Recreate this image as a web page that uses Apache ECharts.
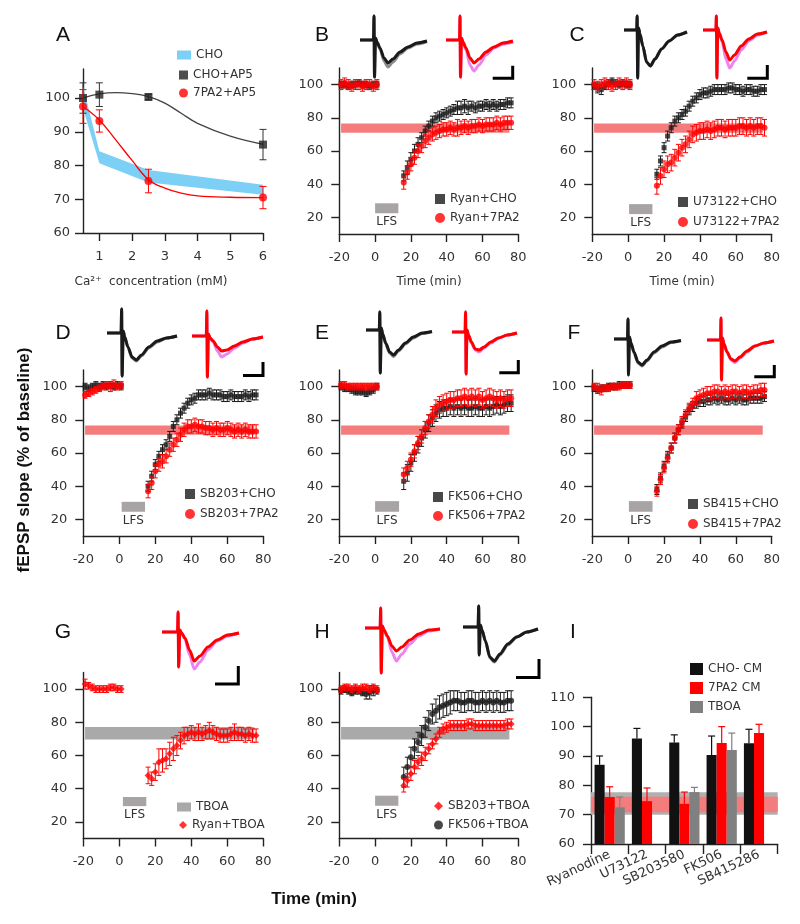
<!DOCTYPE html>
<html><head><meta charset="utf-8">
<script src="https://cdn.jsdelivr.net/npm/echarts@6.0.0/dist/echarts.min.js"></script>
<style>html,body{margin:0;padding:0;background:#fff}#c{width:800px;height:924px}</style>
</head><body><div id="c"></div>
<script>
// ---------------- DATA ----------------
// Panel A
const caX = [0.5, 1, 2.5, 6];
const choBandLow = [97, 80.7, 75, 71.3];
const choBandHigh = [103.5, 84.2, 78.7, 74.3];
const choAp5 = [100, 101, 100.3, 86.2];
const choAp5Err = [4.5, 3.5, 0.8, 4.5];
const pa2Ap5 = [97.5, 93.2, 75.4, 70.5];
const pa2Ap5Err = [5, 3.3, 3.5, 3.3];
const fitX = [0.5, 1, 1.5, 2, 2.5, 3, 3.5, 4, 5, 6];
const choAp5Fit = [100, 101.2, 101.6, 101.3, 100.4, 98.5, 95.5, 92.5, 88.7, 86.3];
const pa2Ap5Fit = [97.5, 93.5, 87.6, 81.5, 75.8, 73.3, 71.8, 71, 70.6, 70.5];
const caTicks = [1, 2, 3, 4, 5, 6];
const caYTicks = [60, 70, 80, 90, 100];

// Time-course panels (B-H)
const timePts = [-19,-17,-15,-13,-11,-9,-7,-5,-3,-1,1, 16,18,20,22,24,26,28,30,32,34,36,38,40,42,44,46,48,50,52,54,56,58,60,62,64,66,68,70,72,74,76];
const timeYTicks = [20, 40, 60, 80, 100];

const ryanCho    = [100,100,99,100,100,101,100,100,99,100,100, 45,50,55,60,64,68,72,75,78,80,81,82,83,84,85,86,86,87,86,87,86,87,87,88,87,88,87,88,88,89,89];
const ryanChoErr = [2,2,2,2,2,2,2,2,2,2,2, 3,4,4,4,4,3,3,3,3,3,3,3,3,3,3,4,4,4,4,3,3,3,3,3,3,3,3,3,3,3,3];
const ryan7PA2    = [100,101,100,99,100,100,99,100,100,99,100, 41,47,52,56,60,63,66,68,70,71,72,73,73,74,73,74,74,75,74,75,75,76,75,76,76,76,77,76,77,77,77];
const ryan7PA2Err = [3,3,3,3,3,3,3,3,3,3,3, 4,4,4,4,4,4,4,4,4,4,4,4,4,4,4,5,4,4,4,4,4,4,4,4,4,4,4,4,4,4,4];

const u73Cho    = [99,98,97,99,101,102,101,100,101,100,100, 46,54,62,69,74,78,80,82,84,87,90,92,94,95,95,96,97,97,97,97,98,98,97,97,96,97,97,96,96,97,97];
const u73ChoErr = [2,3,3,2,2,2,2,2,2,2,2, 3,3,3,3,3,3,3,3,3,3,3,3,3,3,3,3,3,3,3,3,3,3,3,3,3,3,3,3,3,3,3];
const u737PA2    = [100,99,100,101,100,99,100,101,100,101,100, 39,45,49,52,53,56,59,62,64,67,70,71,72,72,73,72,73,74,74,73,74,74,74,75,75,74,75,74,75,75,74];
const u737PA2Err = [3,3,3,3,3,3,3,3,3,3,3, 5,5,5,5,5,5,5,5,5,5,5,5,5,5,5,5,5,5,5,5,5,5,5,5,5,5,5,5,5,5,5];

const sb203Cho    = [100,99,100,101,100,101,100,101,100,101,100, 40,46,53,58,62,65,70,76,80,84,87,90,92,93,95,95,95,96,95,95,95,94,94,95,94,94,94,95,94,95,95];
const sb203ChoErr = [2,2,2,2,2,2,2,2,2,2,2, 3,3,3,3,3,3,3,3,3,3,3,3,3,3,3,3,3,3,3,3,3,3,3,3,3,3,3,3,3,3,3];
const sb2037PA2    = [95,96,97,98,99,100,101,100,101,100,101, 37,42,49,53,55,58,62,65,68,71,74,76,76,77,76,76,75,75,74,75,74,74,75,74,73,74,73,74,73,73,73];
const sb2037PA2Err = [2,2,2,2,2,2,2,3,3,2,2, 4,4,4,4,4,4,4,4,4,4,4,4,4,4,4,4,4,4,4,4,4,4,4,4,4,4,4,4,4,4,4];

const fkCho    = [100,99,99,98,97,97,97,96,97,98,100, 43,48,54,60,65,69,74,78,81,84,86,87,87,88,87,88,87,88,87,87,88,87,87,88,87,88,89,88,89,90,90];
const fkChoErr = [2,2,2,2,2,2,2,2,2,2,2, 5,5,5,5,5,5,5,5,5,5,5,5,5,5,5,5,5,5,5,5,5,5,5,5,5,5,5,5,5,5,5];
const fk7PA2    = [101,101,100,100,100,100,100,100,100,100,100, 47,51,56,61,66,70,75,79,83,87,89,90,91,92,92,93,93,94,93,94,93,94,92,93,94,93,92,93,92,93,93];
const fk7PA2Err = [2,2,2,2,2,2,2,2,2,2,2, 4,4,4,4,4,4,4,4,5,5,5,5,5,5,5,5,5,5,5,5,5,5,5,5,5,5,5,5,5,5,5];

const sb415Cho    = [99,98,99,99,100,100,100,101,101,101,101, 38,45,52,58,63,69,74,78,82,86,88,90,91,91,92,92,93,92,93,92,92,93,92,93,92,92,93,93,93,93,94];
const sb415ChoErr = [2,2,2,2,2,2,2,2,2,2,2, 3,3,3,3,3,3,3,3,3,3,3,3,3,3,3,3,3,3,3,3,3,3,3,3,3,3,3,3,3,3,3];
const sb4157PA2    = [100,99,98,99,99,100,100,100,101,101,101, 37,44,51,57,63,69,74,79,83,87,90,93,94,95,96,96,97,97,96,97,96,97,97,96,97,97,96,97,97,98,98];
const sb4157PA2Err = [2,3,3,2,2,2,2,2,2,2,2, 3,3,3,3,3,3,3,3,3,3,3,4,4,4,4,4,4,4,4,4,4,4,4,4,4,4,4,4,4,4,4];

const ryanTboa    = [103,102,101,100,100,100,100,101,101,100,100, 48,46,50,56,57,58,61,64,66,69,72,73,74,73,74,73,74,75,74,73,72,72,72,73,74,73,73,72,73,72,72];
const ryanTboaErr = [3,2,2,2,2,2,2,2,2,2,2, 5,4,5,8,7,6,7,7,6,5,5,4,4,4,5,4,4,5,4,4,4,4,4,4,5,4,4,4,4,4,4];

const sb203Tboa    = [100,101,101,100,101,100,101,101,100,101,100, 42,45,49,53,56,58,61,64,67,70,74,76,77,78,78,78,78,78,79,79,78,78,78,78,78,78,78,78,78,79,79];
const sb203TboaErr = [2,2,2,2,2,2,2,2,2,2,2, 4,4,4,4,4,4,4,3,3,3,3,3,3,3,3,3,3,3,3,3,3,3,3,3,3,3,3,3,3,3,3];
const fkTboa    = [99,100,99,98,99,99,98,97,98,99,99, 47,53,59,64,68,72,77,81,85,87,89,90,91,92,93,93,92,92,93,93,92,92,93,92,93,92,93,92,92,93,93];
const fkTboaErr = [2,2,2,2,2,2,2,3,4,3,2, 6,6,6,6,6,6,6,6,6,7,7,7,7,7,6,6,6,6,6,6,6,6,6,6,6,6,6,6,6,6,6];

// reference bands [tStart, tEnd, low, high] and LFS bars [tStart, tEnd, low, high]
const band7PA2 = [-19, 75, 71, 76.5];
const bandTboa = [-19, 75, 69.7, 77.2];
const lfsB = [0, 13, 22.5, 28.5];
const lfsC = [0.5, 13.5, 22, 28];
const lfsD = [1.3, 14.3, 24.6, 30.6];
const lfsE = [0, 13.4, 24.6, 31];
const lfsF = [0.4, 13.6, 24.6, 31];
const lfsG = [2, 15, 29.5, 35];
const lfsH = [0, 13, 29.7, 35.8];

// Panel I
const drugCats = ['Ryanodine', 'U73122', 'SB203580', 'FK506', 'SB415286'];
const choCM = [87, 96, 94.6, 90.3, 94.3];
const choCMErr = [3, 3.4, 2.6, 6.5, 4.8];
const pa2CM = [76, 74.6, 73.7, 94.4, 97.8];
const pa2CMErr = [3.5, 4.5, 4, 5.6, 3];
const tboaI = [72.5, null, 77.7, 92, null];
const tboaIErr = [3.5, null, 1.6, 5.8, null];
const bandIGray = [70, 77.6];
const bandIRed = [70.8, 76.1];

// Example fEPSP traces (relative units)
const waveT = [0, 13.5, 14, 14.5, 15.5, 17, 20, 24, 28, 33, 40, 48, 57, 67];
const waveBk = [0,0,24,-37,2,-2,-8,-18,-23,-19,-12,-7,-3,-1];
const waveBg = [0,0,24,-37,2,-2,-9,-21,-27,-22,-14,-8,-4,-1.5];
const waveBr = [0,0,24,-37,2,-2,-8,-18,-23,-19,-12,-7,-3,-1];
const waveBp = [0,0,24,-37,2,-2,-10,-25,-31,-25,-15,-8,-4,-2];
const waveCk = [0,0,14,-48,2,-4,-16,-32,-36,-29,-19,-11,-5,-2];
const waveCr = [0,0,14,-48,2,-3,-10,-22,-30,-25,-16,-9,-4,-2];
const waveCp = [0,0,14,-48,2,-3,-12,-29,-38,-31,-20,-11,-5,-2];
const waveDk = [0,0,24,-43,2,-4,-14,-24,-27,-22,-14,-8,-5,-3];
const waveDg = [0,0,24,-43,2,-4,-14,-25,-28,-23,-15,-9,-5,-3];
const waveDr = [0,0,25,-41,2,-2,-5,-11,-15,-14,-10,-6,-3,-1];
const waveDp = [0,0,25,-41,2,-2,-6,-15,-21,-18,-12,-7,-3,-1];
const waveEk = [0,0,18,-43,2,-4,-13,-22,-25,-20,-13,-7,-3,-1.5];
const waveEg = [0,0,18,-43,2,-4,-14,-23,-26.5,-21,-14,-8,-3.5,-1.5];
const waveEr = [0,0,20,-42,2,-3,-10,-17,-18,-15,-10,-6,-3,-1];
const waveEp = [0,0,20,-42,2,-3,-11,-18,-20,-16,-11,-6,-3,-1];
const waveFk = [0,0,20,-36,2,-4,-13,-23,-26,-21,-13,-7,-3,-1.5];
const waveFg = [0,0,20,-36,2,-4,-14,-24,-27,-22,-14,-8,-3.5,-1.5];
const waveFr = [0,0,22,-40,2,-4,-12,-19,-21,-17,-11,-6,-3,-1];
const waveFp = [0,0,22,-40,2,-4,-12,-20,-22.5,-18,-12,-6,-3,-1];
const waveGr = [0,0,20,-35,2,-1,-6,-18,-29,-24,-15,-8,-3,-1];
const waveGp = [0,0,20,-35,2,-1,-7,-23,-37,-30,-18,-9,-4,-1];
const waveHr = [0,0,20,-45,2,-2,-8,-18,-23,-19,-12,-6,-2,-1];
const waveHp = [0,0,20,-45,2,-2,-9,-24,-33,-26,-16,-8,-3,-1];
const waveHk = [0,0,21,-28,2,-3,-14,-30,-34,-27,-17,-10,-5,-2];
const waveHg = [0,0,21,-28,2,-3,-14,-31,-35,-28,-18,-10,-5,-2];

// ---------------- STYLE ----------------
const BLACK = '#1a1a1a', RED = '#ff0000', PINK = '#ee82ee', GRAYT = '#8c8c8c';
const RED_BAND = '#f47c7c', GRAY_BAND = '#a9a9a9', LFS_C = '#a8a4a6', TXT = '#333';
const F = '"DejaVu Sans", sans-serif';
const FA = '"Liberation Sans", Arial, sans-serif';

const grid = [], xAxis = [], yAxis = [], series = [], legend = [], graphic = [];

function addGrid(r) {
  grid.push({left: r[0], top: r[1], width: r[2], height: r[3], containLabel: false, outerBoundsMode: 'none'});
  return grid.length - 1;
}
function valAxis(gi, min, max, o) {
  const ax = {gridIndex: gi, type: 'value', min: min, max: max,
    axisLine: {show: true, onZero: false, lineStyle: {color: '#222', width: 1.4}},
    axisTick: {show: true, length: 8, lineStyle: {color: '#222', width: 1.4}},
    splitLine: {show: false},
    axisLabel: {color: TXT, fontFamily: F, fontSize: 13, margin: o.margin}};
  if (o.interval) ax.interval = o.interval;
  if (o.ticks) { ax.axisTick.customValues = o.ticks; ax.axisLabel.customValues = o.ticks; }
  return ax;
}
function ln(x1, y1, x2, y2, c, w) {
  return {type: 'line', shape: {x1: x1, y1: y1, x2: x2, y2: y2}, style: {stroke: c, lineWidth: w}};
}
function errSeries(gi, xs, vs, es, color, cap, z) {
  return {type: 'custom', xAxisIndex: gi, yAxisIndex: gi, silent: true, z: z, clip: false,
    encode: {x: 0, y: 1},
    data: xs.map((x, i) => [x, vs[i], es[i]]),
    renderItem: function (p, api) {
      const x = api.value(0), y = api.value(1), e = api.value(2);
      const a = api.coord([x, y + e]), b = api.coord([x, y - e]);
      return {type: 'group', children: [
        ln(a[0], a[1], b[0], b[1], color, 1),
        ln(a[0] - cap, a[1], a[0] + cap, a[1], color, 1),
        ln(b[0] - cap, b[1], b[0] + cap, b[1], color, 1)]};
    }};
}
function rectSeries(gi, r, color, name, label) {
  return {type: 'custom', name: name, xAxisIndex: gi, yAxisIndex: gi, silent: true, z: 1, clip: false,
    itemStyle: {color: color}, encode: {x: 0, y: 1},
    data: [[r[0], r[2], r[1], r[3]]],
    renderItem: function (p, api) {
      const p0 = api.coord([api.value(0), api.value(3)]);
      const p1 = api.coord([api.value(2), api.value(1)]);
      const ch = [{type: 'rect', shape: {x: p0[0], y: p0[1], width: p1[0] - p0[0], height: p1[1] - p0[1]}, style: {fill: color}}];
      if (label) ch.push({type: 'text', style: {text: label, x: (p0[0] + p1[0]) / 2, y: p1[1] + 3,
        textAlign: 'center', align: 'center', textVerticalAlign: 'top', verticalAlign: 'top',
        font: '12px ' + F, fill: TXT}});
      return {type: 'group', children: ch};
    }};
}
function mkLegend(left, top, items, o) {
  legend.push({orient: 'vertical', left: left, top: top, padding: 0, selectedMode: false,
    itemWidth: o.w || 10, itemHeight: o.h || 10, itemGap: o.gap, itemTextGap: o.tg,
    textStyle: {color: TXT, fontFamily: F, fontSize: 12}, data: items});
}

// ---------------- PANEL A ----------------
(function () {
  const gi = addGrid([83, 69, 180, 164]);
  xAxis.push(valAxis(gi, 0.5, 6, {ticks: caTicks, margin: 17}));
  yAxis.push(valAxis(gi, 60, 108.6, {ticks: caYTicks, margin: 13}));
  series.push({type: 'custom', name: 'CHO', xAxisIndex: gi, yAxisIndex: gi, silent: true, z: 1,
    itemStyle: {color: '#7ccff5'}, encode: {x: 0, y: 1}, data: [[caX[0], choBandLow[0]]],
    renderItem: function (p, api) {
      const pts = [];
      caX.forEach((x, i) => pts.push(api.coord([x, choBandHigh[i]])));
      for (let i = caX.length - 1; i >= 0; i--) pts.push(api.coord([caX[i], choBandLow[i]]));
      return {type: 'polygon', shape: {points: pts}, style: {fill: '#7ccff5'}};
    }});
  series.push({type: 'line', xAxisIndex: gi, yAxisIndex: gi, data: fitX.map((x, i) => [x, choAp5Fit[i]]),
    symbol: 'none', smooth: 0.4, lineStyle: {color: '#444', width: 1.3}, z: 2, silent: true});
  series.push({type: 'line', xAxisIndex: gi, yAxisIndex: gi, data: fitX.map((x, i) => [x, pa2Ap5Fit[i]]),
    symbol: 'none', smooth: 0.4, lineStyle: {color: RED, width: 1.3}, z: 2, silent: true});
  series.push(errSeries(gi, caX, choAp5, choAp5Err, '#333', 3.5, 3));
  series.push({type: 'scatter', name: 'CHO+AP5', xAxisIndex: gi, yAxisIndex: gi, data: caX.map((x, i) => [x, choAp5[i]]),
    symbol: 'rect', symbolSize: 8, itemStyle: {color: '#222'}, z: 4, silent: true});
  series.push(errSeries(gi, caX, pa2Ap5, pa2Ap5Err, RED, 3.5, 5));
  series.push({type: 'scatter', name: '7PA2+AP5', xAxisIndex: gi, yAxisIndex: gi, data: caX.map((x, i) => [x, pa2Ap5[i]]),
    symbol: 'circle', symbolSize: 8, itemStyle: {color: RED}, z: 6, silent: true});
  mkLegend(177, 49, [{name: 'CHO', icon: 'rect'}], {w: 14, h: 9, gap: 6, tg: 8});
  mkLegend(179, 69, [{name: 'CHO+AP5', icon: 'rect'}, {name: '7PA2+AP5', icon: 'circle'}], {w: 9, h: 9, gap: 6, tg: 11});
})();

// ---------------- PANELS B-H ----------------
const timePanels = [
  {rect: [339.3, 68, 179, 166], band: band7PA2, bandColor: RED_BAND, lfs: lfsB,
   s: [{name: 'Ryan+CHO', v: ryanCho, e: ryanChoErr, c: BLACK, sym: 'rect', size: 5},
       {name: 'Ryan+7PA2', v: ryan7PA2, e: ryan7PA2Err, c: RED, sym: 'circle', size: 6}],
   lg: [435, 193, 7, 7]},
  {rect: [592.3, 68, 179.4, 166], band: band7PA2, bandColor: RED_BAND, lfs: lfsC,
   s: [{name: 'U73122+CHO', v: u73Cho, e: u73ChoErr, c: BLACK, sym: 'rect', size: 5},
       {name: 'U73122+7PA2', v: u737PA2, e: u737PA2Err, c: RED, sym: 'circle', size: 6}],
   lg: [678, 196, 8, 7]},
  {rect: [83.3, 370, 180, 166], band: band7PA2, bandColor: RED_BAND, lfs: lfsD,
   s: [{name: 'SB203+CHO', v: sb203Cho, e: sb203ChoErr, c: BLACK, sym: 'rect', size: 5},
       {name: 'SB203+7PA2', v: sb2037PA2, e: sb2037PA2Err, c: RED, sym: 'circle', size: 6}],
   lg: [185, 488, 8, 5]},
  {rect: [339.3, 370, 179, 166], band: band7PA2, bandColor: RED_BAND, lfs: lfsE,
   s: [{name: 'FK506+CHO', v: fkCho, e: fkChoErr, c: BLACK, sym: 'rect', size: 5},
       {name: 'FK506+7PA2', v: fk7PA2, e: fk7PA2Err, c: RED, sym: 'circle', size: 6}],
   lg: [433, 491, 7, 5]},
  {rect: [592.3, 370, 179.4, 166], band: band7PA2, bandColor: RED_BAND, lfs: lfsF,
   s: [{name: 'SB415+CHO', v: sb415Cho, e: sb415ChoErr, c: BLACK, sym: 'rect', size: 5},
       {name: 'SB415+7PA2', v: sb4157PA2, e: sb4157PA2Err, c: RED, sym: 'circle', size: 6}],
   lg: [688, 498, 8, 5]},
  {rect: [83.3, 672.5, 180, 166], band: bandTboa, bandColor: GRAY_BAND, bandName: 'TBOA', lfs: lfsG,
   s: [{name: 'Ryan+TBOA', v: ryanTboa, e: ryanTboaErr, c: RED, sym: 'diamond', size: 7}],
   lg: null},
  {rect: [339.3, 672.5, 179, 166], band: bandTboa, bandColor: GRAY_BAND, lfs: lfsH,
   s: [{name: 'FK506+TBOA', v: fkTboa, e: fkTboaErr, c: BLACK, sym: 'circle', size: 6},
       {name: 'SB203+TBOA', v: sb203Tboa, e: sb203TboaErr, c: RED, sym: 'diamond', size: 7}],
   lg: null}
];
timePanels.forEach(function (p) {
  const gi = addGrid(p.rect);
  xAxis.push(valAxis(gi, -20, 80, {interval: 20, margin: 17}));
  yAxis.push(valAxis(gi, 10, 110, {ticks: timeYTicks, margin: 16}));
  series.push(rectSeries(gi, p.band, p.bandColor, p.bandName, null));
  series.push(rectSeries(gi, p.lfs, LFS_C, undefined, 'LFS'));
  p.s.forEach(function (s, k) {
    series.push(errSeries(gi, timePts, s.v, s.e, s.c, 2.5, 3 + 2 * k));
    series.push({type: 'scatter', name: s.name, xAxisIndex: gi, yAxisIndex: gi,
      data: timePts.map((t, i) => [t, s.v[i]]), symbol: s.sym, symbolSize: s.size,
      itemStyle: {color: s.c}, z: 4 + 2 * k, silent: true});
  });
  if (p.lg) mkLegend(p.lg[0], p.lg[1], p.s.map(s => ({name: s.name, icon: s.sym})), {gap: p.lg[2], tg: p.lg[3]});
});
mkLegend(177, 801, [{name: 'TBOA', icon: 'rect', itemStyle: {color: GRAY_BAND}}], {w: 14, h: 9, gap: 6, tg: 9});
mkLegend(179, 819, [{name: 'Ryan+TBOA', icon: 'diamond'}], {w: 8, h: 8, gap: 6, tg: 13});
mkLegend(434, 800, [{name: 'SB203+TBOA', icon: 'diamond'}, {name: 'FK506+TBOA', icon: 'circle'}], {w: 9, h: 9, gap: 7, tg: 4});

// ---------------- PANEL I ----------------
(function () {
  const gi = addGrid([591, 697.3, 186.7, 146.7]);
  xAxis.push({gridIndex: gi, type: 'category', data: drugCats, boundaryGap: true,
    axisLine: {show: true, lineStyle: {color: '#222', width: 1.4}},
    axisTick: {show: true, length: 10, interval: 0, alignWithLabel: false, lineStyle: {color: '#222', width: 1.4}},
    axisLabel: {interval: 0, rotate: 25, margin: 10, color: TXT, fontFamily: F, fontSize: 13},
    splitLine: {show: false}});
  yAxis.push(valAxis(gi, 60, 110, {interval: 10, margin: 16}));
  const defs = [
    {name: 'CHO- CM', v: choCM, e: choCMErr, c: '#111'},
    {name: '7PA2 CM', v: pa2CM, e: pa2CMErr, c: RED},
    {name: 'TBOA', v: tboaI, e: tboaIErr, c: '#808080'}];
  defs.forEach(function (d, k) {
    const s = {type: 'bar', name: d.name, xAxisIndex: gi, yAxisIndex: gi, data: d.v, barWidth: '27%', barGap: '0%',
      itemStyle: {color: d.c}, z: 2, silent: true};
    if (k === 0) s.markArea = {silent: true, data: [
      [{yAxis: bandIGray[0], itemStyle: {color: '#b0b0b0'}}, {yAxis: bandIGray[1]}],
      [{yAxis: bandIRed[0], itemStyle: {color: RED_BAND}}, {yAxis: bandIRed[1]}]]};
    series.push(s);
    const data = [];
    d.v.forEach((v, i) => { if (v != null) data.push([i, v, d.e[i]]); });
    series.push({type: 'custom', xAxisIndex: gi, yAxisIndex: gi, silent: true, z: 5, encode: {x: 0, y: 1}, data: data,
      renderItem: function (p, api) {
        const i = api.value(0), v = api.value(1), e = api.value(2);
        const bw = api.size([1, 0])[0] * 0.27;
        const a = api.coord([i, v]), b = api.coord([i, v + e]);
        const x = a[0] + (k - 1) * bw;
        return {type: 'group', children: [ln(x, a[1], x, b[1], d.c, 1.2), ln(x - 3.5, b[1], x + 3.5, b[1], d.c, 1.2)]};
      }});
  });
  mkLegend(690, 663, [{name: 'CHO- CM', icon: 'rect'}, {name: '7PA2 CM', icon: 'rect'},
    {name: 'TBOA', icon: 'rect', itemStyle: {color: '#808080'}}], {w: 13, h: 12, gap: 7, tg: 10});
})();

// ---------------- TRACE INSETS ----------------
const traceInsets = [
  {left: 360, base: 40, w: 67, back: waveBg, front: waveBk, bc: GRAYT, fc: BLACK},
  {left: 446, base: 40, w: 67, back: waveBp, front: waveBr, bc: PINK, fc: RED},
  {left: 624, base: 30, w: 63, back: waveCk, front: waveCk, bc: GRAYT, fc: BLACK},
  {left: 703, base: 30, w: 64, back: waveCp, front: waveCr, bc: PINK, fc: RED},
  {left: 107, base: 333, w: 70, back: waveDg, front: waveDk, bc: GRAYT, fc: BLACK},
  {left: 192, base: 336, w: 71, back: waveDp, front: waveDr, bc: PINK, fc: RED},
  {left: 366, base: 330, w: 66, back: waveEg, front: waveEk, bc: GRAYT, fc: BLACK},
  {left: 452, base: 332, w: 65, back: waveEp, front: waveEr, bc: PINK, fc: RED},
  {left: 614, base: 339, w: 67, back: waveFg, front: waveFk, bc: GRAYT, fc: BLACK},
  {left: 707, base: 340, w: 67, back: waveFp, front: waveFr, bc: PINK, fc: RED},
  {left: 162, base: 632, w: 77, back: waveGp, front: waveGr, bc: PINK, fc: RED},
  {left: 365, base: 628, w: 75, back: waveHp, front: waveHr, bc: PINK, fc: RED},
  {left: 463, base: 627, w: 75, back: waveHg, front: waveHk, bc: GRAYT, fc: BLACK}
];
traceInsets.forEach(function (t) {
  const gi = addGrid([t.left, t.base - 24, t.w, 72]);
  xAxis.push({gridIndex: gi, type: 'value', min: 0, max: 67, show: false});
  yAxis.push({gridIndex: gi, type: 'value', min: -48, max: 24, show: false});
  [[t.back, t.bc], [t.front, t.fc]].forEach(function (pair, k) {
    series.push({type: 'line', xAxisIndex: gi, yAxisIndex: gi, data: waveT.map((x, i) => [x, pair[0][i]]),
      symbol: 'none', smooth: 0.25, smoothMonotone: 'x', lineStyle: {color: pair[1], width: 3},
      z: 5 + k, silent: true, clip: false});
  });
});

// scale bars
[[[492.7,78.3],[512.7,78.3],[512.7,65.7]], [[747.3,78.3],[767.3,78.3],[767.3,65]],
 [[243,375.5],[263,375.5],[263,362]], [[499.3,372.7],[518.3,372.7],[518.3,360]],
 [[754.3,376.7],[774.3,376.7],[774.3,365]], [[215,684],[238.3,684],[238.3,666]],
 [[516,677.5],[539,677.5],[539,659]]].forEach(function (pts) {
  graphic.push({type: 'polyline', shape: {points: pts}, style: {stroke: '#000', lineWidth: 3, fill: null}, silent: true});
});

// texts
function txt(s, x, y, font, extra) {
  const o = {type: 'text', x: x, y: y, silent: true, style: {text: s, x: 0, y: 0, font: font, fill: '#111',
    textAlign: 'center', align: 'center', textVerticalAlign: 'middle', verticalAlign: 'middle'}};
  if (extra) Object.assign(o, extra);
  return o;
}
[['A', 63, 35], ['B', 322, 35], ['C', 577, 35], ['D', 63, 333], ['E', 322, 333], ['F', 574, 333],
 ['G', 63, 632], ['H', 322, 632], ['I', 573, 632]].forEach(function (l) {
  graphic.push(txt(l[0], l[1], l[2], '21px ' + FA));
});
const axt = '12px ' + F;
const g1 = txt('Ca²⁺  concentration (mM)', 151, 282, axt); g1.style.fill = TXT; graphic.push(g1);
const g2 = txt('Time (min)', 429, 282, axt); g2.style.fill = TXT; graphic.push(g2);
const g3 = txt('Time (min)', 682, 282, axt); g3.style.fill = TXT; graphic.push(g3);
graphic.push(txt('fEPSP slope (% of baseline)', 24, 460, 'bold 17px ' + FA, {rotation: Math.PI / 2}));
graphic.push(txt('Time (min)', 314, 899, 'bold 17px ' + FA));

const chart = echarts.init(document.getElementById('c'), null, {renderer: 'canvas'});
chart.setOption({animation: false, backgroundColor: '#fff', grid: grid, xAxis: xAxis, yAxis: yAxis,
  series: series, legend: legend, graphic: graphic, tooltip: {show: false}});
</script></body></html>
